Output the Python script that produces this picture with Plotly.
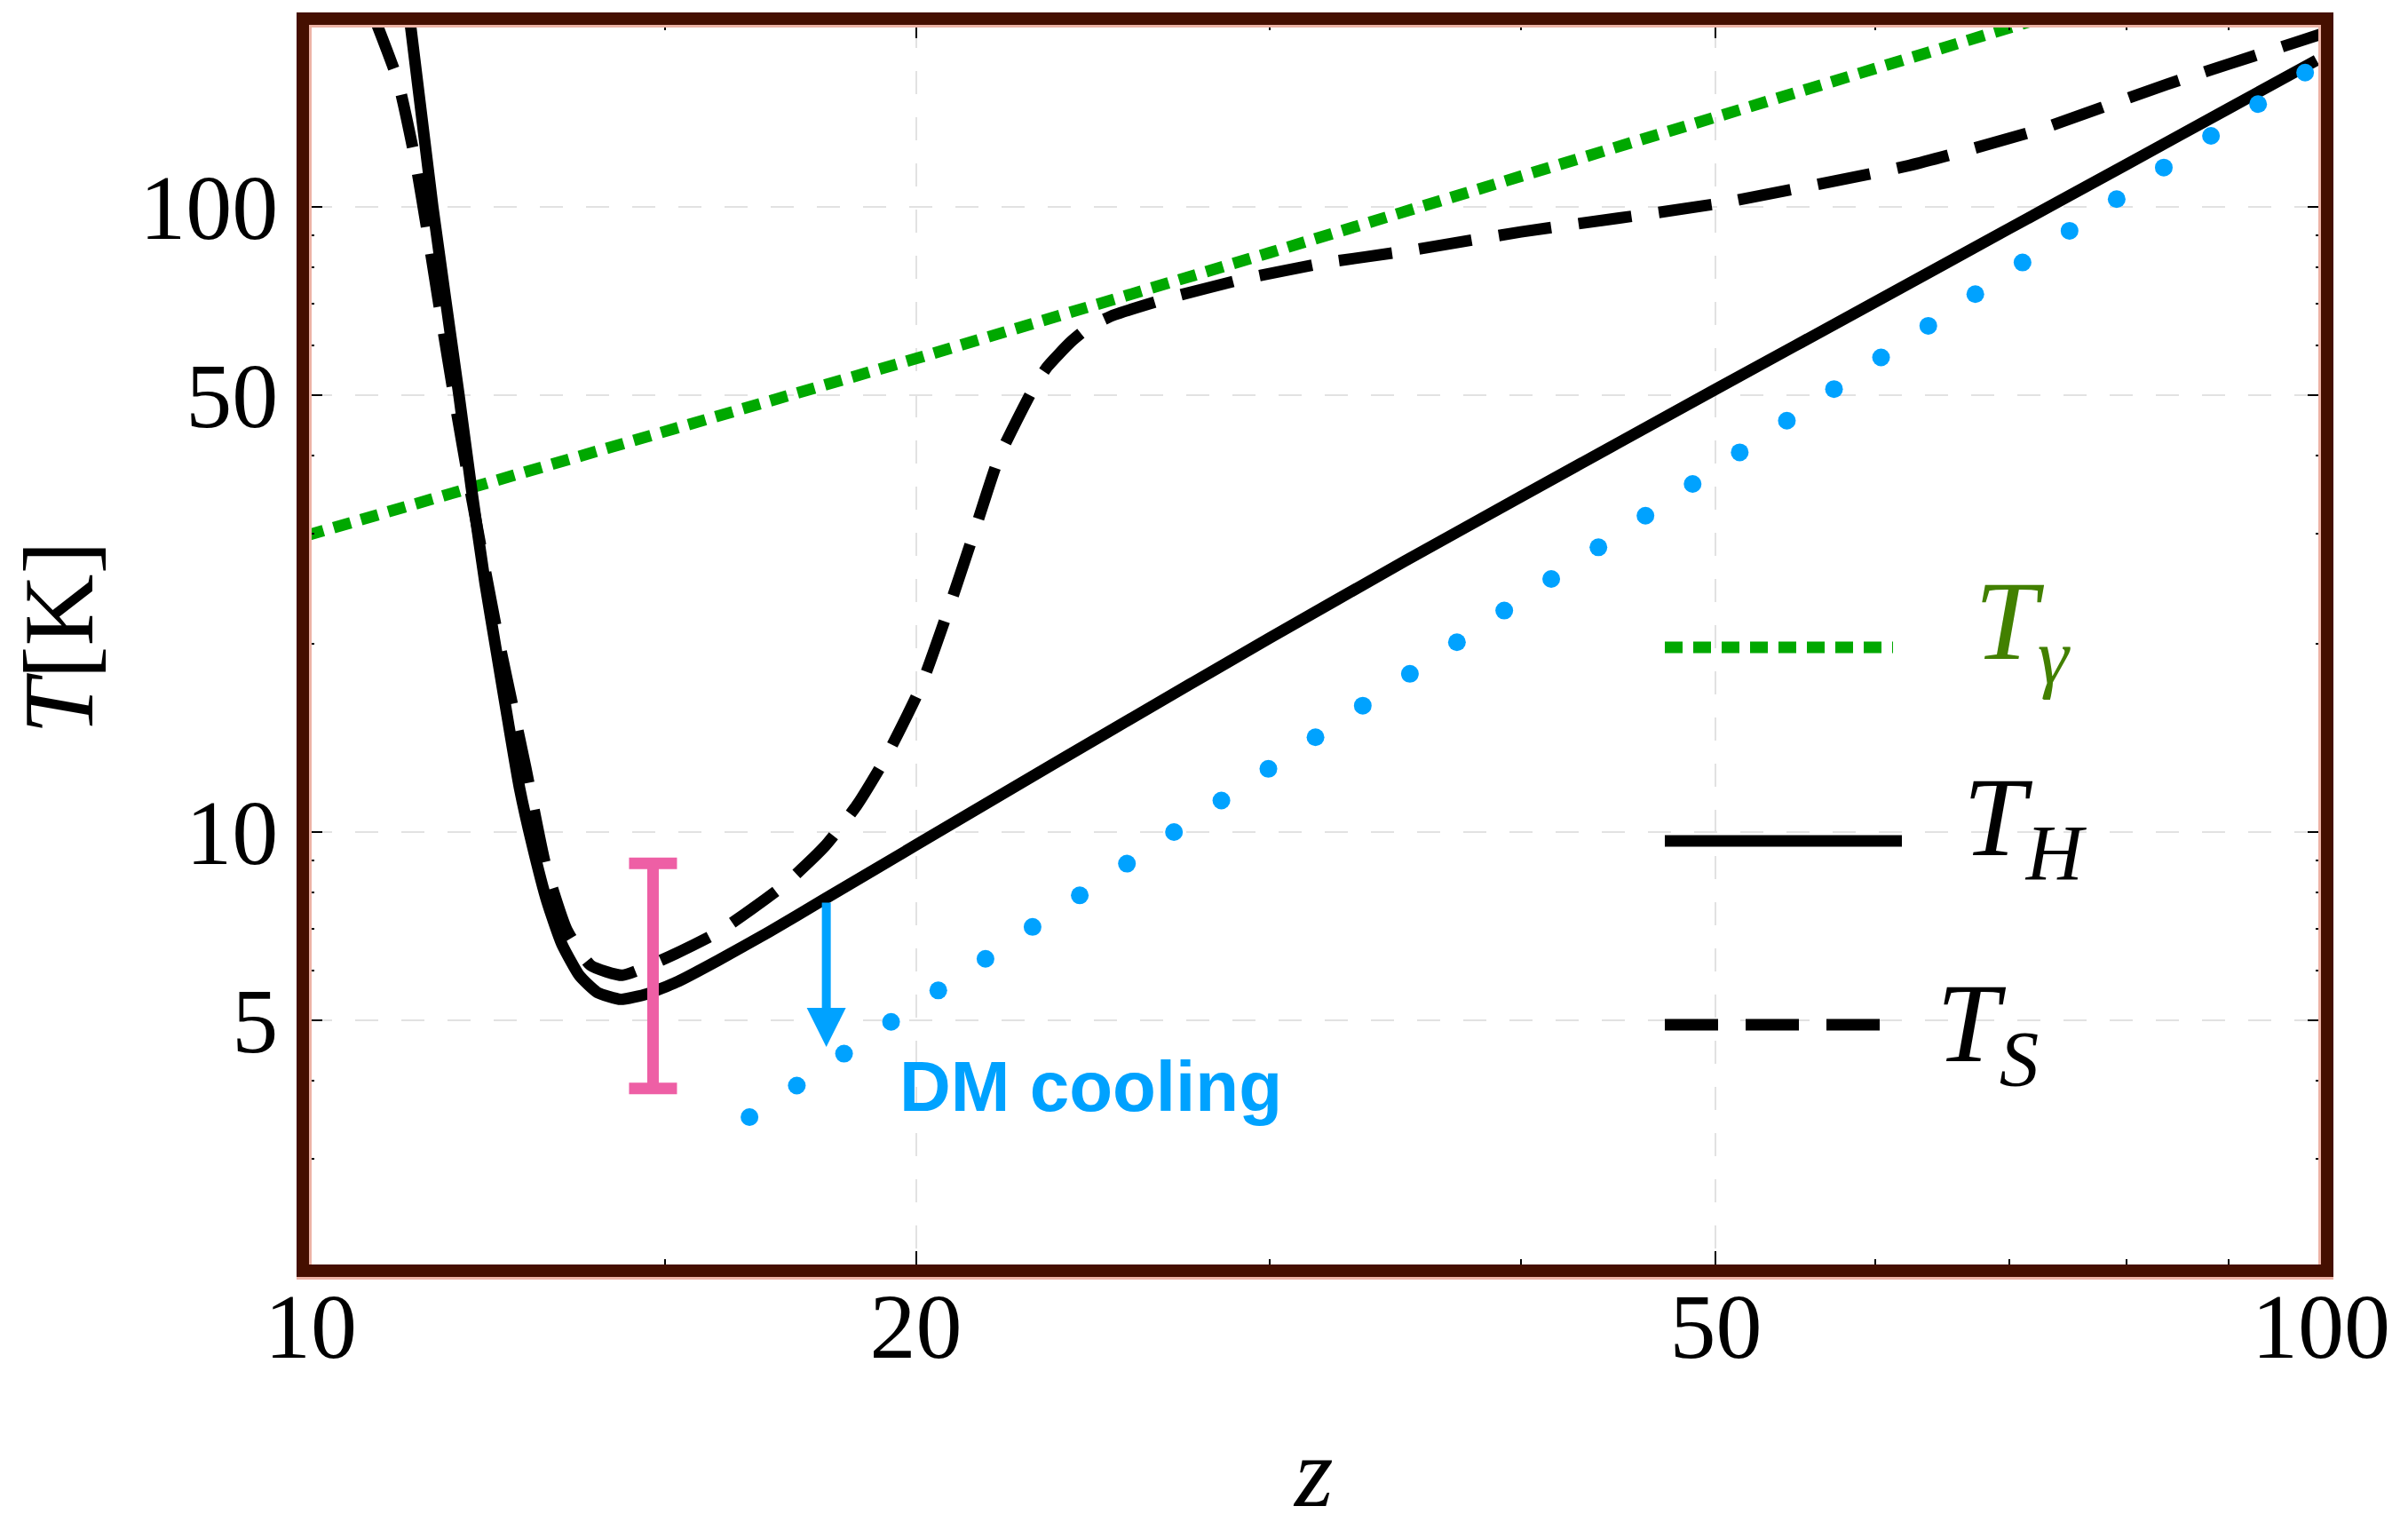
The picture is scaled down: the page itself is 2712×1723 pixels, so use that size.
import math
import plotly.graph_objects as go

# ---------------- data ----------------
# CMB temperature T_gamma
z_gamma = [9.95, 20, 30, 40, 50, 60, 70, 72]
T_gamma = [29.8, 57.2, 84.5, 111.7, 139.0, 166.2, 193.5, 198.9]

# gas kinetic temperature T_H (solid)
z_H = [11.20, 11.50, 11.85, 12.02, 12.21, 12.376, 12.544, 12.703, 12.889, 13.109,
       13.332, 13.605, 13.884, 14.264, 14.705, 15.2, 15.94, 16.9, 18.0, 20, 22, 25,
       30, 35, 40, 50, 60, 70, 80, 90, 99.5]
T_H = [200, 100, 50, 35.5, 25.0, 19.25, 14.84, 11.74, 9.53, 7.73,
       6.62, 5.89, 5.54, 5.40, 5.51, 5.75, 6.23, 6.92, 7.8, 9.53, 11.42, 14.54,
       20.44, 27.1, 34.4, 51.1, 70.4, 92.4, 116.8, 143.8, 171.6]

# spin temperature T_S (dashed)
z_S = [10.76, 11.05, 11.27, 11.44, 11.61, 11.79, 12.0, 12.36, 12.79, 13.09, 13.41,
       13.78, 14.29, 14.93, 15.94, 17.2, 18.02, 18.69, 19.29, 20.1, 20.75, 21.37,
       22.0, 22.93, 23.25, 23.88, 24.43, 25.11, 26.64, 29.17, 31.96, 34.99, 40, 50,
       62.4, 72.3, 83.8, 97.1, 100]
T_S = [200, 159, 119, 89.5, 66.5, 49.2, 35.5, 21.4, 12.7, 8.82, 6.97,
       6.12, 5.90, 6.23, 6.91, 8.23, 9.49, 11.03, 13.03, 17.0, 22.6, 30.0,
       39.8, 51.9, 55.5, 60.8, 64.5, 67.2, 71.3, 76.8, 81.4, 84.9, 91.2, 101.1,
       116.5, 132.7, 157, 183.2, 189]

# DM-cooled gas temperature (blue dots)
z_DM = [16.53, 17.45, 18.42, 19.44, 20.52, 21.66, 22.86, 24.13, 25.47, 26.88,
        28.38, 29.95, 31.61, 33.37, 35.22, 37.17, 39.24, 41.41, 43.71, 46.13,
        48.69, 51.39, 54.24, 57.25, 60.42, 63.78, 67.31, 71.05, 74.98, 79.14,
        83.53, 88.17, 93.06, 98.21]
T_DM = [3.50, 3.93, 4.42, 4.97, 5.58, 6.27, 7.05, 7.92, 8.90, 10.00,
        11.23, 12.62, 14.18, 15.93, 17.91, 20.12, 22.61, 25.40, 28.54, 32.07,
        36.04, 40.49, 45.50, 51.12, 57.44, 64.54, 72.52, 81.49, 91.57, 102.9,
        115.6, 129.9, 146.0, 164.0]

# EDGES-like error bar
bar_z = [14.8]
bar_lo = [3.89]
bar_hi = [8.91]

# DM cooling arrow
arrow_z = 18.05
arrow_T_from = 7.75
arrow_T_to = 4.53

x_ticks = [10, 20, 50, 100]
x_ticktext = ["10", "20", "50", "100"]
x_minor = [15, 30, 40, 60, 70, 80, 90]
y_ticks = [5, 10, 50, 100]
y_ticktext = ["5", "10", "50", "100"]
y_minor = [2, 3, 4, 6, 7, 8, 9, 20, 30, 40, 60, 70, 80, 90]

# ---------------- styling ----------------
GREEN = "#00A800"
BLUE = "#00A2FF"
PINK = "#EE5FA5"
FRAME = "#450F00"
FRAME_PINK = "#EDB3A6"
SERIF = "Liberation Serif"
FW = 14  # frame thickness

W, H = 2712, 1723
L, R, T, B = 348, 98, 28, 299
PW = W - L - R
PH = H - T - B

fig = go.Figure()

fig.add_trace(go.Scatter(x=z_gamma, y=T_gamma, mode="lines",
                         line=dict(color=GREEN, width=13, dash="20px,12px"),
                         showlegend=False, hoverinfo="skip"))
fig.add_trace(go.Scatter(x=z_S, y=T_S, mode="lines",
                         line=dict(color="black", width=13, dash="60px,31px",
                                   shape="spline", smoothing=0.5),
                         showlegend=False, hoverinfo="skip"))
fig.add_trace(go.Scatter(x=z_H, y=T_H, mode="lines",
                         line=dict(color="black", width=13, shape="spline", smoothing=0.5),
                         showlegend=False, hoverinfo="skip"))
fig.add_trace(go.Scatter(x=z_DM, y=T_DM, mode="markers",
                         marker=dict(color=BLUE, size=20, line=dict(width=0)),
                         showlegend=False, hoverinfo="skip"))

bar_c = [math.sqrt(a * b) for a, b in zip(bar_lo, bar_hi)]
fig.add_trace(go.Scatter(
    x=bar_z, y=bar_c, mode="markers",
    marker=dict(size=1, color="rgba(0,0,0,0)"),
    error_y=dict(type="data", symmetric=False,
                 array=[h - c for h, c in zip(bar_hi, bar_c)],
                 arrayminus=[c - l for l, c in zip(bar_lo, bar_c)],
                 color=PINK, thickness=13, width=27),
    showlegend=False, hoverinfo="skip"))

annotations = []
# arrow
annotations.append(dict(
    x=math.log10(arrow_z), y=math.log10(arrow_T_to), xref="x", yref="y",
    ax=math.log10(arrow_z), ay=math.log10(arrow_T_from), axref="x", ayref="y",
    text="", showarrow=True, arrowhead=2, arrowsize=0.88, arrowwidth=10,
    arrowcolor=BLUE, standoff=0, startstandoff=0))
# DM cooling label
annotations.append(dict(
    x=(1011 - L) / PW, y=(H - B - 1223) / PH, xref="paper", yref="paper",
    xanchor="left", yanchor="middle", showarrow=False,
    text="<b>DM cooling</b>",
    font=dict(family="Liberation Sans", size=80, color=BLUE)))
# axis titles
annotations.append(dict(
    x=(1479 - L) / PW, y=(H - B - 1722) / PH, xref="paper", yref="paper",
    xanchor="center", yanchor="bottom", showarrow=False,
    text="<i>z</i>", font=dict(family=SERIF, size=112, color="black")))
annotations.append(dict(
    x=(66 - L) / PW, y=(H - B - 718) / PH, xref="paper", yref="paper",
    xanchor="center", yanchor="middle", showarrow=False, textangle=-90,
    text="<i>T</i>[K]", font=dict(family=SERIF, size=112, color="black")))

# legend (manual)
leg = [
    ("<i>T</i><sub><i>γ</i></sub>", "#428000", 1875, 2132, 729, 2222, 708, GREEN, "20px,12px"),
    ("<i>T</i><sub><i>H</i></sub>", "black", 1875, 2142, 947, 2209, 930, "black", "solid"),
    ("<i>T</i><sub><i>S</i></sub>", "black", 1875, 2117, 1154, 2179, 1161, "black", "60px,31px"),
]
shapes = []
for txt, tcol, x0, x1, yl, xt, yt, lcol, dash in leg:
    shapes.append(dict(type="line", xref="paper", yref="paper",
                       x0=(x0 - L) / PW, x1=(x1 - L) / PW,
                       y0=(H - B - yl) / PH, y1=(H - B - yl) / PH,
                       line=dict(color=lcol, width=13, dash=dash)))
    annotations.append(dict(
        x=(xt - L) / PW, y=(H - B - yt) / PH, xref="paper", yref="paper",
        xanchor="left", yanchor="middle", showarrow=False, text=txt,
        font=dict(family=SERIF, size=127, color=tcol)))

# top and bottom bars of the frame (left/right come from the y axis line)
shapes += [
    dict(type="line", xref="paper", yref="paper", x0=-FW / PW, x1=1 + FW / PW,
         y0=1 + (FW / 2) / PH, y1=1 + (FW / 2) / PH,
         line=dict(color=FRAME, width=FW), layer="above"),
    dict(type="line", xref="paper", yref="paper", x0=-FW / PW, x1=1 + FW / PW,
         y0=-(FW / 2) / PH, y1=-(FW / 2) / PH,
         line=dict(color=FRAME, width=FW), layer="above"),
]
# thin pinkish edge of the frame
e = 1.5
shapes += [
    dict(type="line", xref="paper", yref="paper", x0=e / PW, x1=e / PW, y0=0, y1=1,
         line=dict(color=FRAME_PINK, width=3), layer="above"),
    dict(type="line", xref="paper", yref="paper", x0=1 - e / PW, x1=1 - e / PW, y0=0, y1=1,
         line=dict(color=FRAME_PINK, width=3), layer="above"),
    dict(type="line", xref="paper", yref="paper", x0=0, x1=1, y0=1 - e / PH, y1=1 - e / PH,
         line=dict(color=FRAME_PINK, width=3), layer="above"),
    dict(type="line", xref="paper", yref="paper", x0=-FW / PW, x1=1 + FW / PW,
         y0=-(FW + e) / PH, y1=-(FW + e) / PH,
         line=dict(color=FRAME_PINK, width=3), layer="above"),
]

common_axis = dict(
    ticks="inside", ticklen=15, tickwidth=2, tickcolor="black",
    showgrid=True, gridcolor="#E2E2E2", gridwidth=2, griddash="26px,26px",
    zeroline=False,
    tickfont=dict(family=SERIF, size=104, color="black"),
)

fig.update_xaxes(type="log", range=[1 - 2 / 2264, 2.00004],
                 tickmode="array", tickvals=x_ticks, ticktext=x_ticktext,
                 showline=False, mirror="allticks",
                 minor=dict(tickmode="array", tickvals=x_minor, ticks="inside",
                            ticklen=6, tickwidth=2, tickcolor="black", showgrid=False),
                 **common_axis)
fig.update_yaxes(type="log", range=[0.3082, 2.2912],
                 tickmode="array", tickvals=y_ticks, ticktext=y_ticktext,
                 showline=True, linewidth=FW, linecolor=FRAME, mirror="allticks",
                 minor=dict(tickmode="array", tickvals=y_minor, ticks="inside",
                            ticklen=6, tickwidth=2, tickcolor="black", showgrid=False),
                 **common_axis)

fig.update_layout(
    width=W, height=H, autosize=False,
    margin=dict(l=L, r=R, t=T, b=B, pad=0),
    paper_bgcolor="white", plot_bgcolor="white",
    showlegend=False,
    annotations=annotations, shapes=shapes,
)

fig.write_html("out.html")
